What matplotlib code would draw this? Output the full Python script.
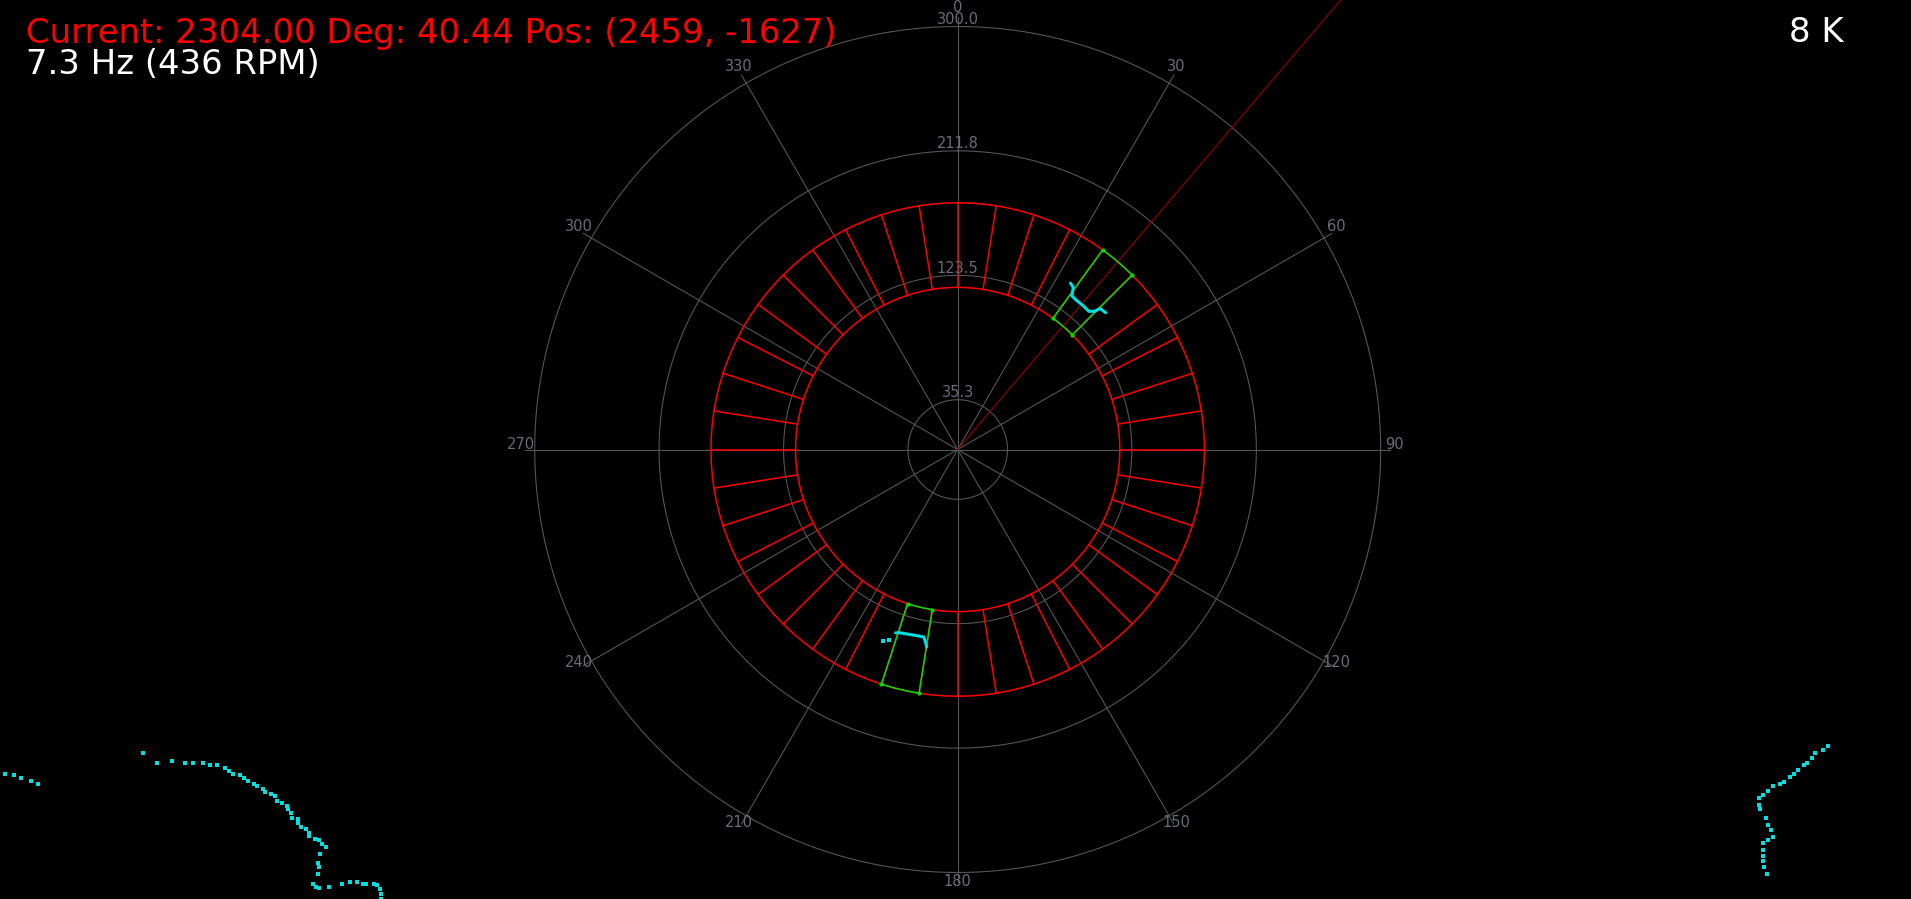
import numpy as np
import matplotlib as mpl
mpl.use('Agg')
import matplotlib.pyplot as plt

# status text
current = 2304.00
heading_deg = 40.44
pos = (2459, -1627)
hz = 7.3
rpm = 436
count_label = '8 K'

# polar grid
r_max = 300.0
r_ticks = [35.3, 123.5, 211.8, 300.0]
theta_ticks = list(range(0, 360, 30))

# sector ring
ring_inner = 115
ring_outer = 175
sector_step = 9
hit_sectors = [36, 189]

# scan points (x, y), same units as the radius
blob1_x = [80, 82, 81, 84, 89, 93, 97, 101, 105]
blob1_y = [118, 115, 109, 106, 102, 98, 98, 100, 97]
blob2_x = [-44, -41, -35, -29, -24, -23, -22]
blob2_y = [-130, -130, -131, -132, -133, -136, -140]
blob2_dots_x = [-53, -49]
blob2_dots_y = [-136, -135]

left_x = [-676, -669, -664, -657, -652, -578, -568, -557, -548, -542, -535, -530,
          -525, -520, -517, -514, -509, -506, -503, -499, -497, -493, -491, -487,
          -484, -483, -479, -476, -475, -473, -472, -468, -468, -466, -462, -460,
          -460, -456, -453, -451, -448, -452, -454, -453, -454, -457, -455, -453,
          -446, -437, -431, -426, -422, -420, -414, -412, -410, -409, -409]
left_y = [-230, -231, -233, -235, -237, -215, -222, -221, -222, -222, -222, -224,
          -224, -226, -228, -230, -231, -233, -235, -237, -239, -241, -243, -244,
          -246, -249, -251, -253, -255, -258, -261, -262, -265, -268, -269, -272,
          -274, -276, -277, -280, -282, -287, -293, -296, -301, -308, -310, -311,
          -310, -308, -307, -307, -308, -308, -308, -309, -312, -315, -319]
right_x = [617, 614, 608, 606, 602, 600, 596, 593, 590, 586, 583, 578, 575, 571,
           568, 568, 569, 573, 575, 577, 578, 575, 571, 571, 571, 571, 572, 574]
right_y = [-210, -213, -215, -219, -222, -224, -227, -230, -232, -236, -237, -239,
           -242, -245, -247, -252, -255, -261, -266, -270, -275, -277, -279, -284,
           -288, -292, -296, -301]


def to_polar(x, y):
    x = np.asarray(x, float)
    y = np.asarray(y, float)
    return np.arctan2(x, y), np.hypot(x, y)


grid_col = '#555555'
label_col = '#696d74'
cyan = '#00e0e0'
green = '#00dd00'

fig = plt.figure(figsize=(19.11, 8.99), dpi=100, facecolor='black')
ax = fig.add_axes([534.7 / 1911, 26.5 / 899, 846 / 1911, 846 / 899], projection='polar')
ax.set_facecolor('black')
ax.set_theta_zero_location('N')
ax.set_theta_direction(-1)
ax.set_ylim(0, r_max)
ax.axis('off')

full = np.linspace(0, 2 * np.pi, 721)
for r in r_ticks:
    ax.plot(full, np.full_like(full, r), color=grid_col, lw=0.8, clip_on=False)
    ax.annotate(f'{r:.1f}', (0, r), xytext=(0, 7), textcoords='offset pixels',
                ha='center', va='center', color=label_col, fontsize=10.5,
                annotation_clip=False)

for t in theta_ticks:
    th = np.deg2rad(t)
    ax.plot([th, th], [0, r_max * 1.022], color=grid_col, lw=0.8, clip_on=False)
    ax.annotate(str(t), (th, r_max * 1.033), xytext=(0, 5), textcoords='offset pixels',
                ha='center', va='center', color=label_col, fontsize=10.5,
                annotation_clip=False)

# sector ring
ring_t = np.deg2rad(np.arange(0, 361, 3))
ax.plot(ring_t, np.full_like(ring_t, ring_inner), color='red', lw=1.1)
ax.plot(ring_t, np.full_like(ring_t, ring_outer), color='red', lw=1.1)
for a in range(0, 360, sector_step):
    th = np.deg2rad(a)
    ax.plot([th, th], [ring_inner, ring_outer], color='red', lw=1.1)

for a in hit_sectors:
    t = np.deg2rad(np.arange(a, a + sector_step + 1, 3))
    th = np.concatenate([t, t[::-1], t[:1]])
    rr = np.concatenate([np.full_like(t, ring_outer), np.full_like(t, ring_inner), [ring_outer]])
    ax.plot(th, rr, color=green, lw=1.1, zorder=3)
    ax.plot(np.deg2rad([a, a, a + sector_step, a + sector_step]),
            [ring_inner, ring_outer, ring_inner, ring_outer],
            'o', color=green, ms=2, zorder=3)

# heading ray
ax.plot([np.deg2rad(heading_deg)] * 2, [0, 1200], color='#8b0000', lw=0.9,
        clip_on=False, zorder=2)

# scan data
for bx, by in [(blob1_x, blob1_y), (blob2_x, blob2_y)]:
    th, rr = to_polar(bx, by)
    ax.plot(th, rr, color=cyan, lw=2.2, solid_capstyle='round', zorder=4)
th, rr = to_polar(blob2_dots_x, blob2_dots_y)
ax.plot(th, rr, 's', color=cyan, ms=2.8, mew=0, zorder=4)
for px, py in [(left_x, left_y), (right_x, right_y)]:
    th, rr = to_polar(px, py)
    ax.plot(th, rr, 's', color=cyan, ms=2.4, mew=0, clip_on=False, zorder=4)

fig.text(25.5 / 1911, 1 - 43.3 / 899,
         f'Current: {current:.2f} Deg: {heading_deg:.2f} Pos: ({pos[0]}, {pos[1]})',
         color='red', fontsize=24.4, va='baseline', ha='left')
fig.text(25.5 / 1911, 1 - 74.5 / 899, f'{hz} Hz ({rpm} RPM)',
         color='white', fontsize=24.4, va='baseline', ha='left')
fig.text(1843.5 / 1911, 1 - 42.5 / 899, count_label,
         color='white', fontsize=24.4, va='baseline', ha='right')

fig.savefig('out.png', dpi=100, facecolor='black')
